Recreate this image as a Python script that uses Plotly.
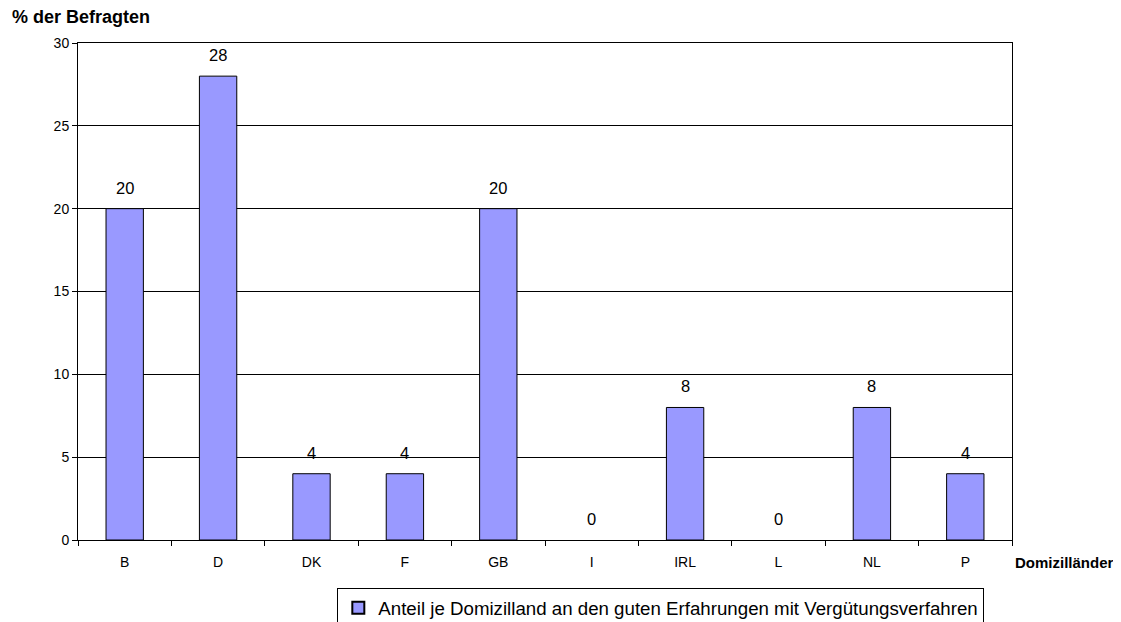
import plotly.graph_objects as go

categories = ["B", "D", "DK", "F", "GB", "I", "IRL", "L", "NL", "P"]
values = [20, 28, 4, 4, 20, 0, 8, 0, 8, 4]
series_name = "Anteil je Domizilland an den guten Erfahrungen mit Vergütungsverfahren"
y_ticks = [0, 5, 10, 15, 20, 25, 30]

FONT = "Liberation Sans, Arial, sans-serif"

fig = go.Figure()
fig.add_trace(go.Bar(
    x=categories, y=values, name=series_name,
    marker=dict(color="#9999FF",
                line=dict(color="black", width=[1 if v > 0 else 0 for v in values])),
    width=0.4, showlegend=True,
))

annotations = [
    dict(x=c, y=v, xref="x", yref="y", text=str(v), showarrow=False,
         yanchor="middle", yshift=21, font=dict(size=16.5, color="black"))
    for c, v in zip(categories, values)
]
annotations += [
    dict(text="<b>% der Befragten</b>", xref="paper", yref="paper", x=-0.0728, y=1.052,
         xanchor="left", yanchor="middle", showarrow=False, font=dict(size=18)),
    dict(text="<b>Domizilländer</b>", xref="paper", yref="paper", x=1.001, y=-0.046,
         xanchor="left", yanchor="middle", showarrow=False, font=dict(size=15)),
]

fig.update_layout(
    width=1113, height=614,
    margin=dict(l=70, r=109, t=35, b=82, autoexpand=False),
    plot_bgcolor="white", paper_bgcolor="white",
    font=dict(family=FONT, color="black"),
    xaxis=dict(type="category", tickson="boundaries", ticks="outside", ticklen=5,
               tickcolor="black", showline=True, linecolor="black", linewidth=1,
               mirror=True, showgrid=False, tickfont=dict(size=14),
               ticklabelstandoff=9),
    yaxis=dict(range=[0, 30], tickvals=y_ticks, ticks="outside", ticklen=5,
               tickcolor="black", showline=True, linecolor="black", linewidth=1,
               mirror=True, showgrid=True, gridcolor="black", gridwidth=1,
               tickfont=dict(size=14), zeroline=False),
    legend=dict(orientation="h", x=0.624, xanchor="center", y=-0.097, yanchor="top",
                bordercolor="black", borderwidth=1, font=dict(size=18.7),
                itemsizing="constant"),
    annotations=annotations,
)

fig.write_html("out.html")
